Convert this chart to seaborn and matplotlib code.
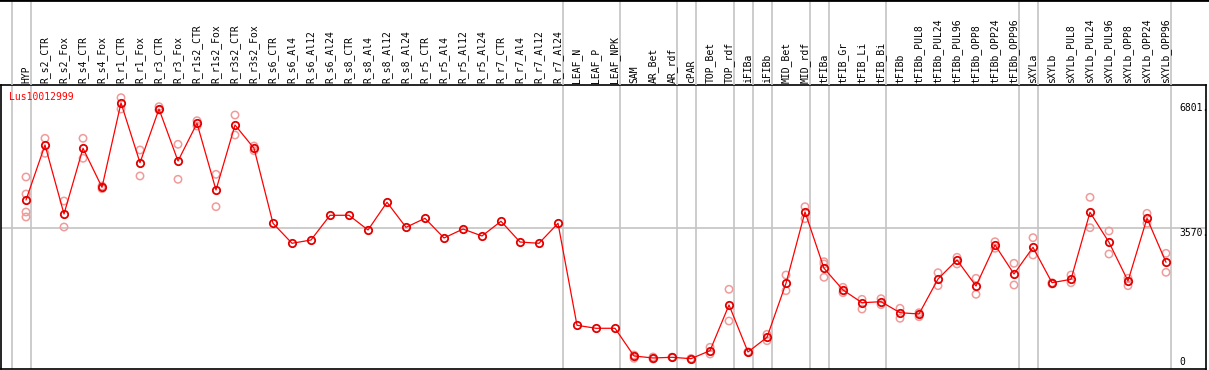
import numpy as np
import pandas as pd
import matplotlib
matplotlib.use("Agg")
import matplotlib.pyplot as plt
import seaborn as sns

gene = "Lus10012999"

categories = [
    "HYP", "R_s2_CTR", "R_s2_Fox", "R_s4_CTR", "R_s4_Fox", "R_r1_CTR", "R_r1_Fox",
    "R_r3_CTR", "R_r3_Fox", "R_r1s2_CTR", "R_r1s2_Fox", "R_r3s2_CTR", "R_r3s2_Fox",
    "R_s6_CTR", "R_s6_Al4", "R_s6_Al12", "R_s6_Al24", "R_s8_CTR", "R_s8_Al4",
    "R_s8_Al12", "R_s8_Al24", "R_r5_CTR", "R_r5_Al4", "R_r5_Al12", "R_r5_Al24",
    "R_r7_CTR", "R_r7_Al4", "R_r7_Al12", "R_r7_Al24", "LEAF_N", "LEAF_P", "LEAF_NPK",
    "SAM", "AR_Bet", "AR_rdf", "cPAR", "TOP_Bet", "TOP_rdf", "iFIBa", "iFIBb",
    "MID_Bet", "MID_rdf", "tFIBa", "tFIB_Gr", "tFIB_Li", "tFIB_Bi", "tFIBb",
    "tFIBb_PUL8", "tFIBb_PUL24", "tFIBb_PUL96", "tFIBb_OPP8", "tFIBb_OPP24",
    "tFIBb_OPP96", "sXYLa", "sXYLb", "sXYLb_PUL8", "sXYLb_PUL24", "sXYLb_PUL96",
    "sXYLb_OPP8", "sXYLb_OPP24", "sXYLb_OPP96",
]

mean_expr = [
    4291, 5713, 3929, 5628, 4619, 6801, 5255, 6643, 5299, 6274, 4550, 6230, 5628,
    3689, 3172, 3257, 3896, 3896, 3516, 4232, 3585, 3818, 3309, 3541, 3361,
    3741, 3205, 3172, 3689, 1052, 975, 975,
    259, 207, 225, 189, 396, 1577, 362, 742,
    2138, 3981, 2526, 1965, 1636, 1662, 1378,
    1344, 2249, 2740, 2068, 3128, 2378,
    3068, 2153, 2241, 3973, 3197, 2197, 3818, 2681,
]

nan = np.nan
rep_a = [
    4886, 5886, 4265, 5886, 4653, 6936, 5584, 6703, 5731, 6341, 4955, 6488, 5687,
    nan, nan, nan, nan, nan, nan, nan, nan, nan, nan, nan, nan,
    nan, nan, nan, nan, nan, nan, nan,
    284, 233, 225, 189, 483, 1983, 362, 819,
    2352, 4118, 2696, 2034, 1724, 1740, 1492,
    1378, 2412, 2810, 2267, 3213, 2655,
    3317, 2153, 2352, 4361, 3490, 2267, 3947, 2913,
]
rep_b = [
    3852, 5498, 3593, 5369, 4583, 6643, 4912, 6618, 4826, 6204, 4118, 5971, 5566,
    nan, nan, nan, nan, nan, nan, nan, nan, nan, nan, nan, nan,
    nan, nan, nan, nan, nan, nan, nan,
    199, 181, 225, 189, 310, 1163, 362, 654,
    1947, 3808, 2293, 1895, 1473, 1585, 1233,
    1274, 2076, 2637, 1853, 3043, 2094,
    2869, 2120, 2153, 3575, 2895, 2076, 3689, 2422,
]
extra_reps_cat = ["HYP", "HYP", "tFIBa"]
extra_reps_val = [4446, 3981, 2637]

separators_after = [-1, 0, 28, 31, 34, 35, 37, 38, 39, 41, 42, 45, 52, 53, 60]
y_marks = [6801, 3570, 0]
y_mark_labels = ["6801.", "3570.", "0"]

# ---------------------------------------------------------------
sns.set_theme(style="white")
plt.rcParams['font.family'] = ['DejaVu Sans Mono']

W, H = 1209, 370
fig = plt.figure(figsize=(W / 100, H / 100), dpi=100)
ax = fig.add_axes([1 / W, 1 / H, 1205 / W, 284 / H])
hx = fig.add_axes([0, 285 / H, 1, 85 / H])

x0, step = 26.0, 19.0
ax.set_xlim((1 - x0) / step, (1206 - x0) / step)
hx.set_xlim((0 - x0) / step, (1209 - x0) / step)
ppu = 25.85
ax.set_ylim((366 - 369) * ppu, (366 - 85) * ppu)
hx.set_ylim(0, 85)

pos = {c: i for i, c in enumerate(categories)}
df = pd.DataFrame({"pos": np.arange(len(categories)), "mean": mean_expr,
                   "a": rep_a, "b": rep_b})
reps = pd.concat([
    df[["pos", "a"]].rename(columns={"a": "v"}),
    df[["pos", "b"]].rename(columns={"b": "v"}),
    pd.DataFrame({"pos": [pos[c] for c in extra_reps_cat], "v": extra_reps_val}),
]).dropna()

grey = "#c4c4c4"
for s in separators_after:
    ax.axvline(s + 0.25, color=grey, lw=1.2, zorder=0)
    hx.axvline(s + 0.25, color=grey, lw=1.2, zorder=0)
ax.axhline(3570, color=grey, lw=1.2, zorder=0)

sns.scatterplot(data=reps, x="pos", y="v", ax=ax, marker="o", s=28,
                facecolors="none", edgecolor="#f09a9a", linewidth=1.1,
                zorder=2, legend=False)
sns.lineplot(data=df, x="pos", y="mean", ax=ax, color="#ff0000", lw=0.9,
             estimator=None, sort=False, marker="o", markersize=5.3,
             markerfacecolor="none", markeredgecolor="#e00000",
             markeredgewidth=1.3, zorder=3, legend=False)

for i, c in enumerate(categories):
    hx.text(i, 1.7, c, rotation=90, ha="center", va="bottom", fontsize=7,
            color="black")

xr = (1179 - x0) / step
for v, lab in zip(y_marks, y_mark_labels):
    if v == 0:
        ax.text(xr, -30, lab, ha="left", va="bottom", fontsize=7, color="black")
    else:
        ax.text(xr, v - 10, lab, ha="left", va="top", fontsize=7, color="black")

ax.text((9.3 - x0) / step, (366 - 92) * ppu, gene, ha="left", va="top",
        fontsize=7, color="#ff0000")

for a in (ax, hx):
    a.set_xticks([])
    a.set_yticks([])
    a.set_xlabel("")
    a.set_ylabel("")
    a.set_facecolor("none")
for sp in ax.spines.values():
    sp.set_visible(True)
    sp.set_color("black")
    sp.set_linewidth(1.2)
for k, sp in hx.spines.items():
    sp.set_visible(k == "top")
    sp.set_color("black")
    sp.set_linewidth(2)

fig.savefig("out.png", dpi=100, facecolor="white")
